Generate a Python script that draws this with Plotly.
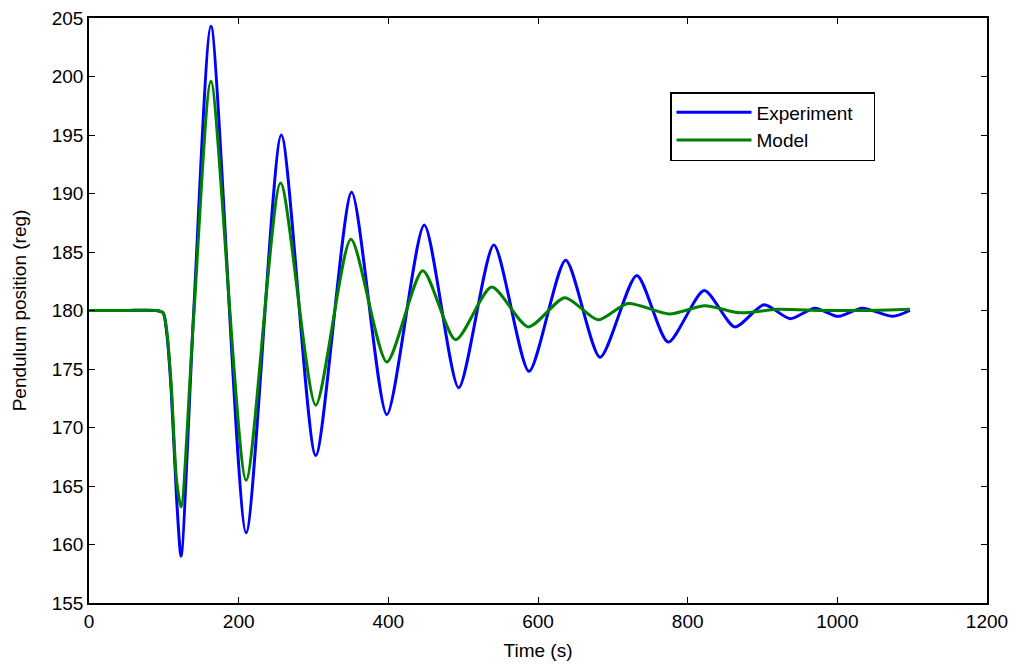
import plotly.graph_objects as go

# values (flat start, the drop, then each swing's extremes)
exp_time = [0, 50, 90, 99, 104, 110, 117, 123, 140, 163, 210, 257, 303, 351, 398, 448, 494, 541, 588, 637, 683,
            732, 774, 822, 863, 902, 937, 970, 1001, 1033, 1074, 1097]
exp_pos = [180, 180, 180, 179.8, 178.0, 173.0, 164.0, 159.0, 180.0, 204.3, 161.0, 195.0, 167.6, 190.1, 171.1,
           187.3, 173.4, 185.6, 174.8, 184.3, 176.0, 183.0, 177.3, 181.7, 178.6, 180.5, 179.3, 180.2, 179.5,
           180.2, 179.5, 180.0]

model_time = [0, 50, 90, 99, 104, 110, 117, 123, 140, 163, 210, 256, 303, 350, 398, 446, 490, 538, 587, 636, 680,
              720, 776, 823, 870, 920, 980, 1040, 1097]
model_pos = [180, 180, 180, 179.8, 178.2, 173.5, 165.5, 163.2, 179.6, 199.6, 165.5, 190.9, 171.9, 186.1, 175.6,
             183.4, 177.5, 182.0, 178.6, 181.1, 179.2, 180.6, 179.7, 180.4, 179.8, 180.1, 180.0, 180.0, 180.1]

x_ticks = [0, 200, 400, 600, 800, 1000, 1200]
y_ticks = [155, 160, 165, 170, 175, 180, 185, 190, 195, 200, 205]

fig = go.Figure()
fig.add_trace(go.Scatter(x=exp_time, y=exp_pos, mode='lines', name='Experiment\u00a0\u00a0\u00a0',
                         line=dict(color='#0000FF', width=3, shape='spline', smoothing=0.7)))
fig.add_trace(go.Scatter(x=model_time, y=model_pos, mode='lines', name='Model',
                         line=dict(color='#008000', width=3, shape='spline', smoothing=0.7)))

axis_style = dict(
	showgrid=False, zeroline=False, showline=True, mirror='ticks',
	linecolor='black', linewidth=1.5, ticks='inside', ticklen=6, tickwidth=1,
	tickcolor='black', tickfont=dict(size=19, color='black'), automargin=False,
	ticklabeloverflow='allow',
)
fig.update_xaxes(range=[0, 1200], tickvals=x_ticks,
                 title=dict(text='Time (s)', font=dict(size=19, color='black'), standoff=13), **axis_style)
fig.update_yaxes(range=[155, 205], tickvals=y_ticks,
                 title=dict(text='Pendulum position (reg)', font=dict(size=19, color='black'), standoff=20), **axis_style)

# the page adds an 8px body margin, so the margins are trimmed to land the axes where the reference has them
fig.update_layout(
	width=1016, height=669,
	margin=dict(l=81, r=37, t=10, b=74),
	paper_bgcolor='white', plot_bgcolor='white',
	font=dict(family='Liberation Sans, Arial, sans-serif', color='black'),
	legend=dict(x=0.647, y=0.8735, xanchor='left', yanchor='top',
	            bordercolor='black', borderwidth=1.5, bgcolor='white',
	            font=dict(size=19), itemwidth=75),
)

fig.write_html("out.html")
